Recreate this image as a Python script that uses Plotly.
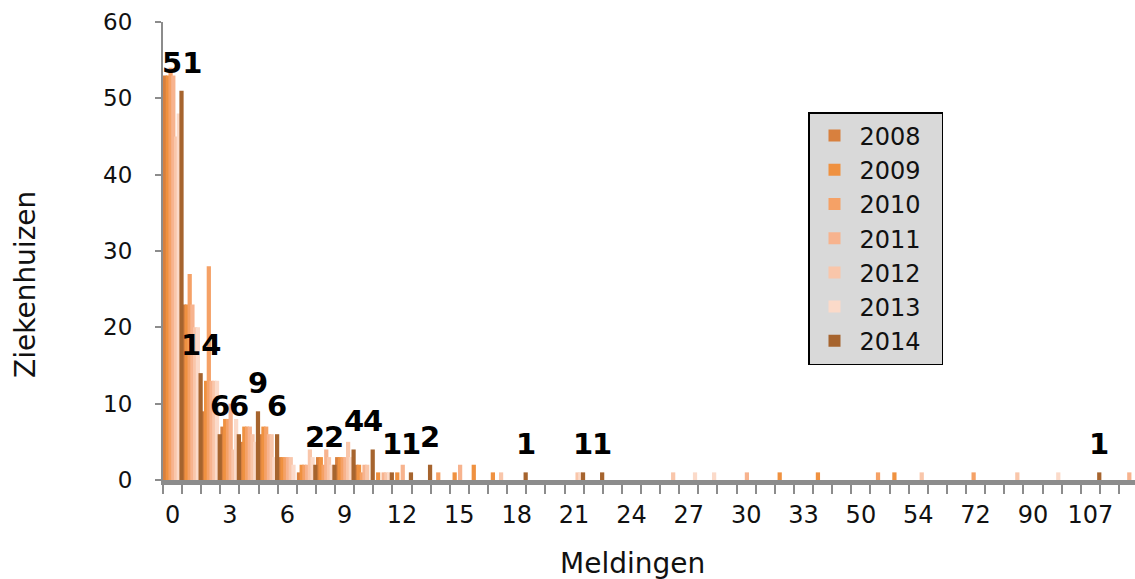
import plotly.graph_objects as go

# Category labels (Meldingen); only every third label is shown on the axis
categories = [str(i) for i in range(34)] + [
    "36", "40", "50", "51", "53", "54", "60", "64", "72", "78", "84",
    "90", "95", "100", "107", "120", "130"]

years = ["2008", "2009", "2010", "2011", "2012", "2013", "2014"]

# Number of hospitals per category, one list per year (51 categories)
s2008 = [53, 23, 9, 7, 5, 6, 3, 1, 3, 3, 2, 0, 0, 0, 0, 0, 0, 0, 0, 0, 0, 0, 0, 0, 0, 0,
         0, 0, 0, 0, 0, 0, 0, 0, 0, 0, 0, 0, 0, 0, 0, 0, 0, 0, 0, 0, 0, 0, 0, 0, 0]
s2009 = [53, 23, 13, 8, 7, 7, 3, 2, 3, 3, 2, 1, 1, 0, 0, 1, 2, 1, 0, 0, 0, 0, 0, 0, 0, 0,
         0, 0, 0, 0, 0, 0, 1, 0, 1, 0, 0, 0, 1, 0, 0, 0, 0, 0, 0, 0, 0, 0, 0, 0, 0]
s2010 = [54, 27, 28, 8, 7, 7, 3, 2, 2, 3, 1, 0, 0, 0, 1, 0, 0, 0, 0, 0, 0, 0, 0, 0, 0, 0,
         0, 0, 0, 0, 0, 0, 0, 0, 0, 0, 0, 1, 0, 0, 0, 0, 1, 0, 0, 0, 0, 0, 0, 0, 0]
s2011 = [53, 23, 13, 10, 7, 6, 3, 2, 4, 3, 2, 1, 2, 0, 0, 2, 0, 0, 0, 0, 0, 0, 0, 0, 0, 0,
         0, 0, 0, 0, 1, 0, 0, 0, 0, 0, 0, 0, 0, 0, 0, 0, 0, 0, 0, 0, 0, 0, 0, 0, 1]
s2012 = [45, 20, 13, 4, 6, 6, 3, 4, 3, 5, 2, 1, 0, 0, 0, 0, 0, 1, 0, 0, 0, 1, 0, 0, 0, 0,
         1, 0, 0, 0, 0, 0, 0, 0, 0, 0, 0, 0, 0, 1, 0, 0, 0, 0, 1, 0, 0, 0, 0, 0, 0]
s2013 = [48, 20, 13, 8, 5, 3, 2, 3, 2, 3, 0, 1, 0, 0, 0, 0, 0, 0, 0, 0, 0, 1, 0, 0, 0, 0,
         0, 1, 1, 0, 0, 0, 0, 0, 0, 0, 0, 0, 0, 0, 0, 0, 0, 0, 0, 0, 1, 0, 0, 0, 0]
s2014 = [51, 14, 6, 6, 9, 6, 0, 2, 2, 4, 4, 1, 1, 2, 0, 0, 0, 0, 1, 0, 0, 1, 1, 0, 0, 0,
         0, 0, 0, 0, 0, 0, 0, 0, 0, 0, 0, 0, 0, 0, 0, 0, 0, 0, 0, 0, 0, 0, 1, 0, 0]

series = [s2008, s2009, s2010, s2011, s2012, s2013, s2014]
colors = ["#D8803E", "#EF9140", "#F5A166", "#F7B38E", "#F9C6AA", "#FBDAC9", "#A6642E"]

y_ticks = [0, 10, 20, 30, 40, 50, 60]

FONT = "DejaVu Sans"
positions = list(range(len(categories)))
n = len(years)
slot = 1.0 / n
bar_w = 1.55 * slot  # slightly wider than a slot to mimic the 3-D side faces

fig = go.Figure()
for j, (name, vals, col) in enumerate(zip(years, series, colors)):
    fig.add_trace(go.Bar(
        x=positions, y=vals, name=name + "\u00a0\u00a0", marker_color=col,
        marker_line_width=0, legendgroup=name,
        width=bar_w, offset=-0.5 + j * slot))

# Data labels for the 2014 series (above the rightmost bar in each group)
for i, v in enumerate(s2014):
    if v > 0:
        fig.add_annotation(
            x=i - 0.5 + (n - 1) * slot + bar_w / 2, y=v, xref="x", yref="y",
            text=str(v), showarrow=False, yanchor="bottom", yshift=9,
            font=dict(family=FONT, size=29, color="#000000", weight="bold"))

tick_idx = positions[::3]
fig.update_xaxes(
    range=[-0.5, -0.5 + 972 / 19.12],
    tickmode="array", tickvals=tick_idx,
    ticktext=[categories[i] for i in tick_idx],
    ticks="", ticklabelstandoff=9,
    tickfont=dict(family=FONT, size=24, color="#111111"),
    showline=True, linecolor="#8c8c8c", linewidth=5,
    showgrid=False, zeroline=False,
    minor=dict(tickmode="linear", tick0=-0.5, dtick=1, ticks="outside",
               ticklen=9, tickcolor="#8c8c8c", tickwidth=1.5, showgrid=False),
)
fig.update_yaxes(
    range=[0, 60], tickmode="array", tickvals=y_ticks,
    ticks="outside", ticklen=6, tickcolor="#8c8c8c", tickwidth=1.5,
    ticklabelstandoff=18,
    tickfont=dict(family=FONT, size=23, color="#111111"),
    showline=True, linecolor="#8c8c8c", linewidth=2,
    showgrid=False, zeroline=False,
)

fig.add_annotation(
    text="Meldingen", xref="paper", yref="paper", x=(632 - 163) / 972, y=0,
    yshift=-83, xanchor="center", yanchor="middle", showarrow=False,
    font=dict(family=FONT, size=28, color="#111111"))
fig.add_annotation(
    text="Ziekenhuizen", xref="paper", yref="paper", x=0, y=(480 - 285) / 458,
    xshift=-138, xanchor="center", yanchor="middle", showarrow=False,
    textangle=-90, font=dict(family=FONT, size=28, color="#111111"))

fig.update_layout(
    width=1135, height=579,
    margin=dict(l=163, r=0, t=22, b=99, autoexpand=False),
    paper_bgcolor="white", plot_bgcolor="white",
    barmode="overlay",
    showlegend=True,
    legend=dict(
        x=(808 - 163) / 972, y=(480 - 112) / 458, xanchor="left", yanchor="top",
        bgcolor="#d9d9d9", bordercolor="#000000", borderwidth=1.5,
        font=dict(family=FONT, size=24, color="#111111"),
        tracegroupgap=0, itemwidth=40,
    ),
)

fig.write_html("out.html")
